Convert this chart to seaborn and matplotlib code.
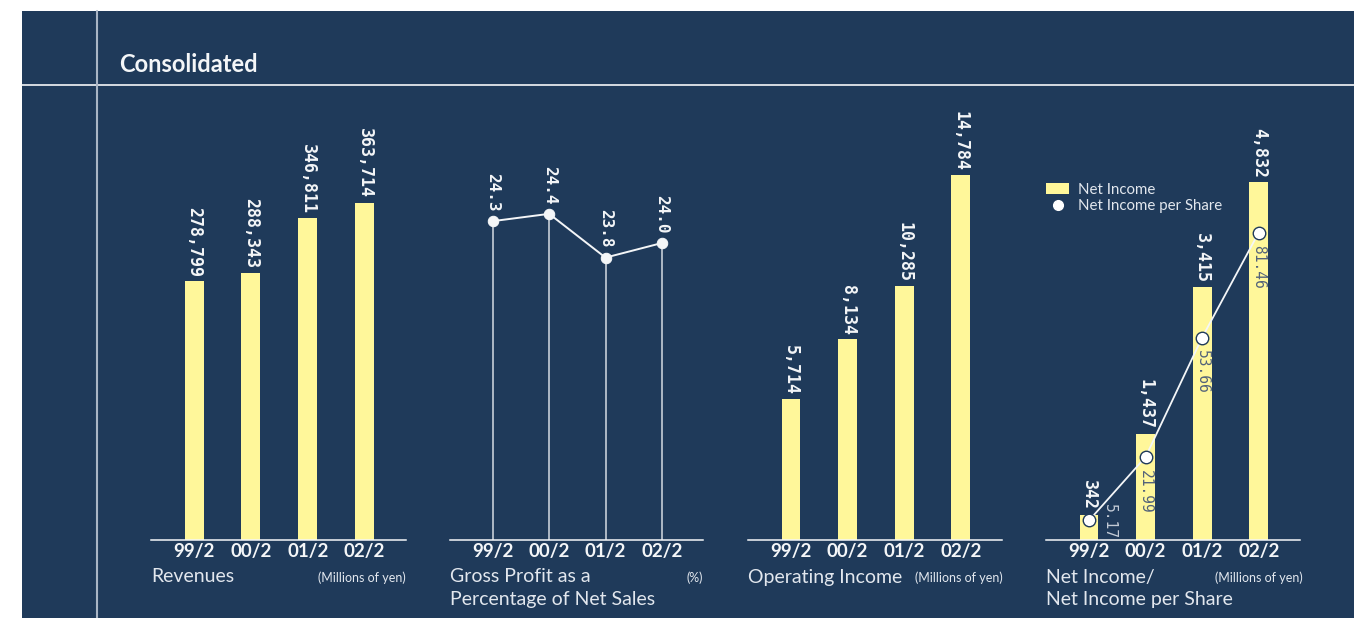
import numpy as np
import matplotlib
matplotlib.use("Agg")
import matplotlib.pyplot as plt
import seaborn as sns
from matplotlib.patches import Rectangle, Patch
from matplotlib.lines import Line2D

# ---------------- data ----------------
periods = ["99/2", "00/2", "01/2", "02/2"]
revenues = [278799, 288343, 346811, 363714]
gross_margin = [24.3, 24.4, 23.8, 24.0]
operating_income = [5714, 8134, 10285, 14784]
net_income = [342, 1437, 3415, 4832]
eps = [5.17, 21.99, 53.66, 81.46]

titles = [["Revenues"], ["Gross Profit as a", "Percentage of Net Sales"],
          ["Operating Income"], ["Net Income/", "Net Income per Share"]]
units = ["(Millions of yen)", "(%)", "(Millions of yen)", "(Millions of yen)"]

# ---------------- style ----------------
NAVY = "#1f3a5a"
YELLOW = "#fff79a"
WHITE = "#f4f6f8"
TXT = "#e2e7ee"
MONO = "DejaVu Sans Mono"

sns.set_theme(style="white")
plt.rcParams["font.family"] = ["Lato", "DejaVu Sans"]

W, H = 1370, 618
fig = plt.figure(figsize=(W / 100, H / 100), dpi=100)
fig.patch.set_facecolor("white")


def fx(x):
    return x / W


def fy(y):
    return 1 - y / H


# background panel and frame lines
fig.patches.append(Rectangle((fx(22), 0), fx(1354) - fx(22), fy(11),
                             transform=fig.transFigure, facecolor=NAVY,
                             edgecolor="none", zorder=-10))
fig.add_artist(Line2D([fx(22), fx(1354)], [fy(85), fy(85)], color=WHITE, lw=1.2))
fig.add_artist(Line2D([fx(97), fx(97)], [0, fy(11)], color="#a9b5c5", lw=1.5))
fig.text(fx(119), fy(64), "Consolidated", color=WHITE, fontsize=17,
         fontweight="bold", va="center", ha="left")

idx = np.arange(len(periods))
lefts = [151, 450, 748, 1046]
widths = [255, 253, 254, 254]
XLIM = (-0.76, 3.73)

axes = []
for l, w in zip(lefts, widths):
    ax = fig.add_axes([fx(l), fy(540), w / W, 440 / H])
    ax.set_facecolor("none")
    axes.append(ax)


def style(ax):
    for s in ["top", "right", "left"]:
        ax.spines[s].set_visible(False)
    ax.spines["bottom"].set_color(WHITE)
    ax.spines["bottom"].set_linewidth(1.1)
    ax.set_yticks([])
    ax.set_xticks(idx)
    ax.set_xticklabels(periods, fontsize=13.5, fontweight="bold", color=WHITE)
    ax.tick_params(axis="x", length=0, pad=2.5)
    ax.set_xlim(*XLIM)
    ax.set_xlabel("")
    ax.set_ylabel("")


def bars(ax, vals, top):
    sns.barplot(x=idx, y=vals, ax=ax, color=YELLOW, saturation=1,
                width=0.335, edgecolor="none")
    ax.set_ylim(0, top)
    for i, v in zip(idx, vals):
        ax.annotate(f"{v:,}", (i, v), xytext=(0, 3), textcoords="offset points",
                    rotation=-90, ha="center", va="bottom", fontsize=12,
                    fontweight="bold", color=WHITE, family=MONO)


# Panel 1: revenues
ax1 = axes[0]
bars(ax1, revenues, 474300)
style(ax1)

# Panel 2: gross margin
ax2 = axes[1]
gm_low, gm_high = 19.93, 25.96
ax2.vlines(idx, gm_low, gross_margin, color="#d5dbe3", lw=1.1, zorder=1)
sns.lineplot(x=idx, y=gross_margin, ax=ax2, color=WHITE, lw=1.4, marker="o",
             markersize=7.5, markeredgecolor=WHITE, markerfacecolor=WHITE, zorder=3)
ax2.set_ylim(gm_low, gm_high)
for i, v in zip(idx, gross_margin):
    ax2.annotate(f"{v:.1f}", (i, v), xytext=(0, 7), textcoords="offset points",
                 rotation=-90, ha="center", va="bottom", fontsize=11.5,
                 fontweight="bold", color=WHITE, family=MONO)
style(ax2)

# Panel 3: operating income
ax3 = axes[2]
bars(ax3, operating_income, 17820)
style(ax3)

# Panel 4: net income + EPS
ax4 = axes[3]
bars(ax4, net_income, 5940)
ax4b = ax4.twinx()
sns.lineplot(x=idx, y=eps, ax=ax4b, color=WHITE, lw=1.3, marker="o",
             markersize=9, markerfacecolor="white", markeredgecolor=NAVY,
             markeredgewidth=1.0, zorder=3)
ax4b.set_ylim(0, 116.6)
for s in ax4b.spines.values():
    s.set_visible(False)
ax4b.set_yticks([])
ax4b.set_ylabel("")
for i, v in zip(idx, eps):
    if v < 10:
        ax4b.annotate(f"{v:.2f}", (i, v), xytext=(15, -1), textcoords="offset points",
                      rotation=-90, ha="center", va="center", fontsize=10.5,
                      color="#c3cbd6", family=MONO)
    else:
        ax4b.annotate(f"{v:.2f}", (i, v), xytext=(0, -9), textcoords="offset points",
                      rotation=-90, ha="center", va="top", fontsize=10.5,
                      color="#52627a", family=MONO)
style(ax4)
ax4b.set_xlim(*XLIM)

handles = [Patch(facecolor=YELLOW, edgecolor="none", label="Net Income"),
           Line2D([], [], marker="o", linestyle="none", markerfacecolor="white",
                  markeredgecolor="white", markersize=7, label="Net Income per Share")]
ax4b.legend(handles=handles, loc="upper left",
            bbox_to_anchor=(fx(1046), fy(183)), bbox_transform=fig.transFigure,
            frameon=False, fontsize=10.8, labelcolor=TXT, handlelength=1.55,
            handleheight=0.75, handletextpad=0.6, borderpad=0, borderaxespad=0,
            labelspacing=0.15)

# Panel titles and units
rights = [406, 703, 1003, 1303]
for l, r, t, u in zip(lefts, rights, titles, units):
    for k, line in enumerate(t):
        fig.text(fx(l), fy(577 + 23 * k), line, color=TXT, fontsize=14,
                 ha="left", va="center")
    fig.text(fx(r), fy(578), u, color=TXT, fontsize=9, ha="right", va="center")

fig.savefig("out.png", dpi=100, facecolor=fig.get_facecolor())
